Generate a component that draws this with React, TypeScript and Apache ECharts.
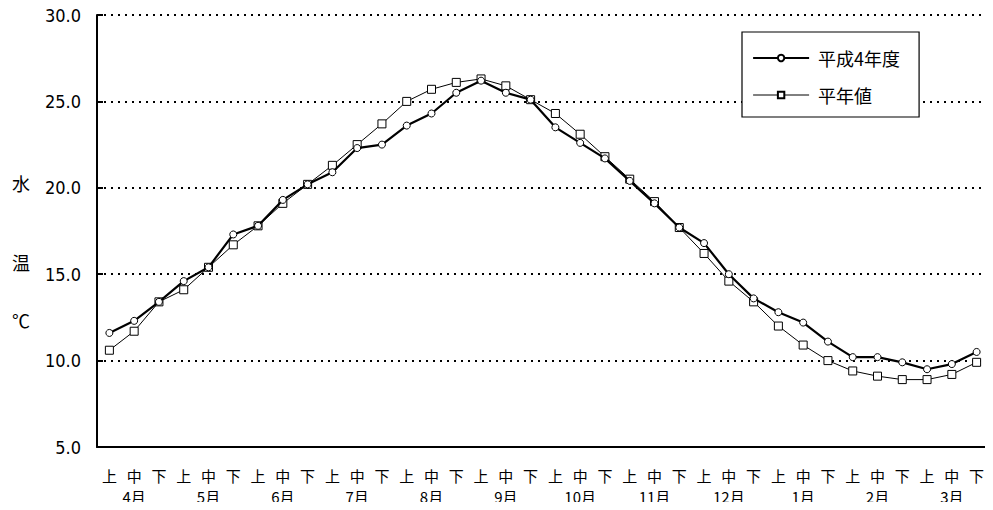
import React, { useEffect, useRef } from "react";
import * as echarts from "echarts";

const periods = ["上", "中", "下"];
const months = ["4月", "5月", "6月", "7月", "8月", "9月", "10月", "11月", "12月", "1月", "2月", "3月"];
const categories: string[] = months.flatMap((m) => periods.map((p) => m + p));

const yTicks = [5, 10, 15, 20, 25, 30];

const seriesH4 = [
  11.6, 12.3, 13.4, 14.6, 15.4, 17.3, 17.8, 19.3, 20.2, 20.9, 22.3, 22.5,
  23.6, 24.3, 25.5, 26.2, 25.5, 25.1, 23.5, 22.6, 21.7, 20.4, 19.1, 17.7,
  16.8, 15.0, 13.6, 12.8, 12.2, 11.1, 10.2, 10.2, 9.9, 9.5, 9.8, 10.5,
];
const seriesNormal = [
  10.6, 11.7, 13.4, 14.1, 15.4, 16.7, 17.8, 19.1, 20.2, 21.3, 22.5, 23.7,
  25.0, 25.7, 26.1, 26.3, 25.9, 25.1, 24.3, 23.1, 21.8, 20.5, 19.2, 17.7,
  16.2, 14.6, 13.4, 12.0, 10.9, 10.0, 9.4, 9.1, 8.9, 8.9, 9.2, 9.9,
];

const legendNames = ["平成4年度", "平年値"];
const yTitle = ["水", "温", "℃"];

const FONT = "'Noto Sans CJK JP', 'DejaVu Sans', sans-serif";

export default function App() {
  const ref = useRef<HTMLDivElement>(null);
  useEffect(() => {
    if (!ref.current) return;
    const chart = echarts.init(ref.current, undefined, { renderer: "svg" });
    chart.setOption({
      animation: false,
      backgroundColor: "#fff",
      textStyle: { fontFamily: FONT, color: "#000" },
      grid: { left: 97, top: 15, right: 4, bottom: 63, containLabel: false },
      legend: {
        orient: "vertical",
        left: 742,
        top: 32,
        padding: [17, 19, 13, 10],
        itemGap: 19,
        itemWidth: 56,
        itemHeight: 8,
        borderColor: "#000",
        borderWidth: 1.2,
        backgroundColor: "#fff",
        textStyle: { fontSize: 18, lineHeight: 18, color: "#000", fontFamily: FONT, padding: [0, 0, 0, 4] },
        data: [
          { name: legendNames[0], lineStyle: { width: 2.2, color: "#000" } },
          { name: legendNames[1], lineStyle: { width: 1, color: "#000" } },
        ],
      },
      xAxis: [
        {
          type: "category",
          data: categories,
          boundaryGap: true,
          axisLine: { lineStyle: { color: "#000", width: 2 } },
          axisTick: { inside: true, length: 6, lineStyle: { color: "#000", width: 1.5 } },
          axisLabel: {
            interval: 0,
            margin: 20,
            fontSize: 15,
            lineHeight: 16,
            color: "#000",
            fontFamily: FONT,
            formatter: (v: string) => v.slice(-1),
          },
          splitLine: { show: false },
        },
        {
          type: "category",
          data: months,
          position: "bottom",
          boundaryGap: true,
          axisLine: { show: false },
          axisTick: { show: false },
          axisLabel: { interval: 0, margin: 41, fontSize: 15, lineHeight: 16, color: "#000", fontFamily: FONT },
          splitLine: { show: false },
        },
      ],
      yAxis: {
        type: "value",
        min: yTicks[0],
        max: yTicks[yTicks.length - 1],
        interval: 5,
        axisLine: { show: true, lineStyle: { color: "#000", width: 2 } },
        axisTick: { show: true, inside: true, length: 6, lineStyle: { color: "#000", width: 2 } },
        axisLabel: {
          margin: 16,
          fontSize: 18,
          color: "#000",
          fontFamily: "'DejaVu Sans Condensed', 'Liberation Sans Narrow', sans-serif",
          formatter: (v: number) => v.toFixed(1),
        },
        splitLine: { show: true, lineStyle: { color: "#000", type: [2, 5], width: 1.8 } },
      },
      graphic: yTitle.map((t, i) => ({
        type: "text",
        left: 12,
        top: [174, 253, 311][i],
        style: { text: t, fontSize: 18, fill: "#000", fontFamily: FONT },
      })),
      series: [
        {
          name: legendNames[0],
          type: "line",
          data: seriesH4,
          symbol: "circle",
          symbolSize: 7,
          lineStyle: { color: "#000", width: 2.2 },
          itemStyle: { color: "#fff", borderColor: "#000", borderWidth: 1 },
          z: 3,
        },
        {
          name: legendNames[1],
          type: "line",
          data: seriesNormal,
          symbol: "rect",
          symbolSize: 8,
          lineStyle: { color: "#000", width: 1 },
          itemStyle: { color: "#fff", borderColor: "#000", borderWidth: 1 },
          z: 2,
        },
      ],
    });
    return () => chart.dispose();
  }, []);
  return <div ref={ref} style={{ width: 993, height: 510, margin: -8 }} />;
}
